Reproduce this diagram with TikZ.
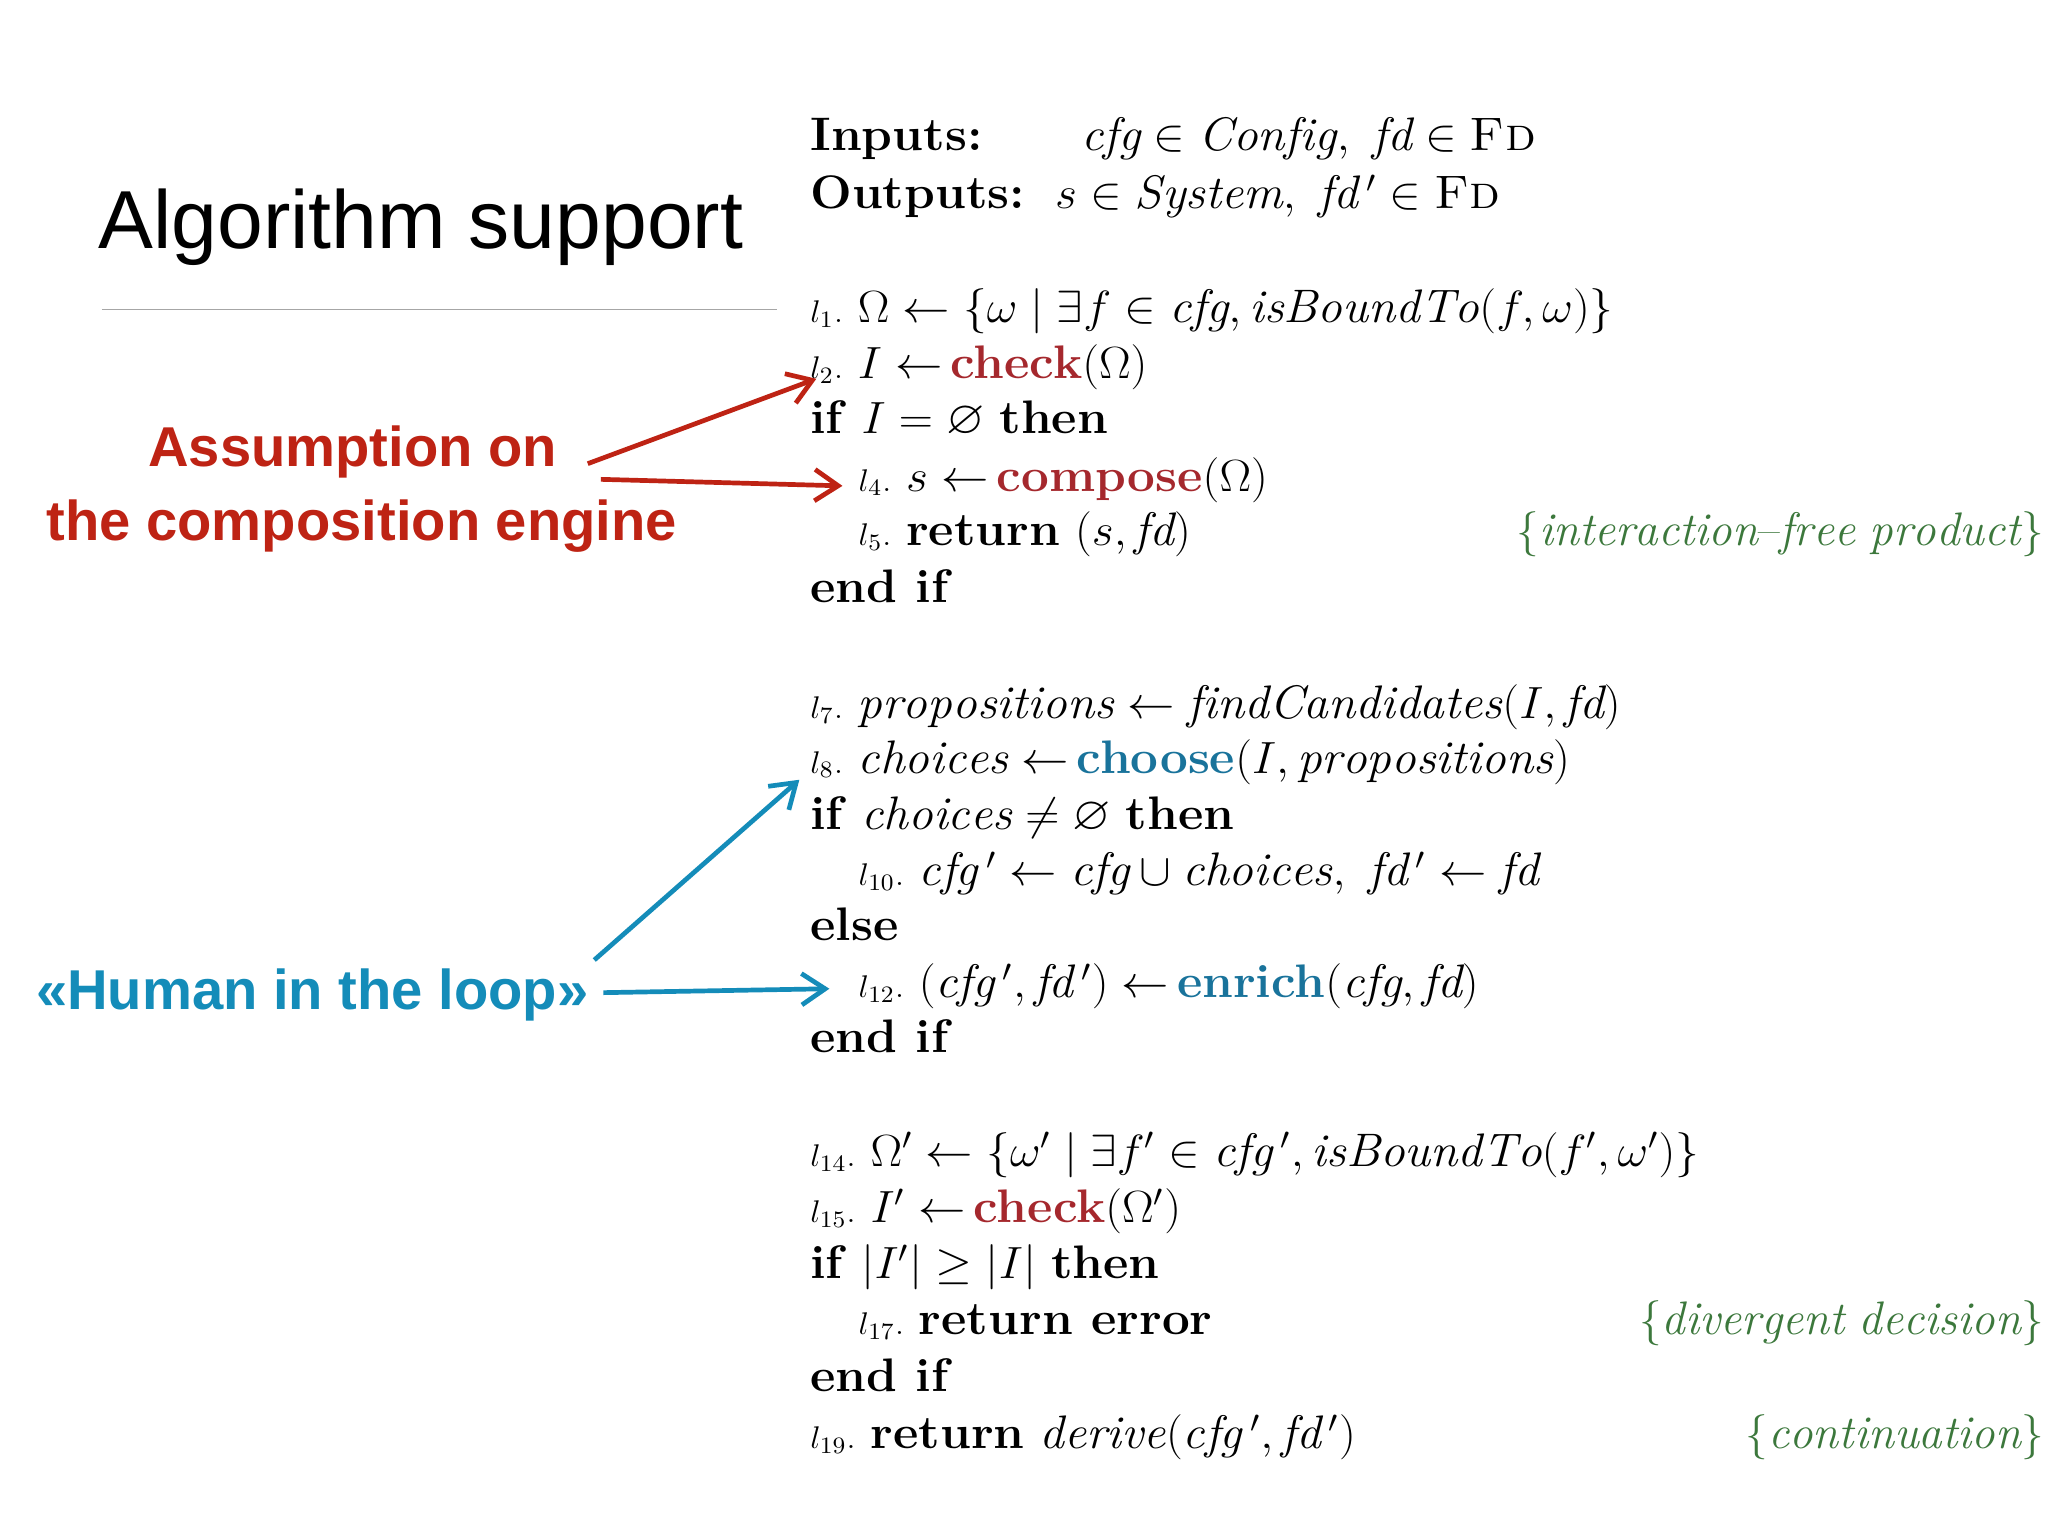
\documentclass[tikz,border=0pt]{standalone}
\usepackage{amsmath,amssymb}
\usepackage{fontspec}
\usetikzlibrary{arrows.meta}
\newfontfamily\sansf{Liberation Sans}
\definecolor{ared}{RGB}{190,35,20}
\definecolor{ablue}{RGB}{20,140,185}
\definecolor{kred}{RGB}{165,40,45}
\definecolor{kblue}{RGB}{25,115,155}
\definecolor{cgreen}{RGB}{60,120,60}
\newcommand{\cfg}{\mathit{cfg}}
\newcommand{\fdd}{\mathit{fd}}
\newcommand{\lab}[1]{\ensuremath{\scriptstyle l_{#1}.}\ }
\newcommand{\kr}[1]{\textcolor{kred}{\textbf{#1}}}
\newcommand{\kb}[1]{\textcolor{kblue}{\textbf{#1}}}
\begin{document}
\begin{tikzpicture}[x=0.5pt,y=-0.5pt,
  alg/.style={anchor=base west,inner sep=0,font=\fontsize{18}{21}\selectfont,xscale=1.05,transform shape},
  cmt/.style={anchor=base east,inner sep=0,text=cgreen,font=\fontsize{18}{21}\selectfont},
  ann/.style={font=\sansf\bfseries\fontsize{21.5}{25}\selectfont,inner sep=0},
  rarr/.style={draw=ared,line width=1.8pt,-{Straight Barb[length=9pt,width=12pt]}},
  barr/.style={draw=ablue,line width=1.8pt,-{Straight Barb[length=9pt,width=12pt]}}]
\useasboundingbox (0,0) rectangle (1568,1176);
\fill[white] (0,0) rectangle (1568,1176);
\node[anchor=base west,inner sep=0,font=\sansf\fontsize{31.5}{34}\selectfont] (title) at (75,190) {Algorithm support};
\draw[gray!70,line width=0.6pt] (78,237) -- (595,237);
\node[ann,text=ared] (a1) at (270,346) {Assumption on};
\node[ann,text=ared] (a2) at (277,403) {the composition engine};
\node[ann,text=ablue] (h) at (239,762) {«Human in the loop»};
% algorithm
\node[alg] (in) at (620,115) {\textbf{Inputs:}\qquad$\cfg\in\mathit{Config},\ \fdd\in\textsc{Fd}$};
\node[alg] (out) at (620,160) {\textbf{Outputs:}\ \ $s\in\mathit{System},\ \fdd\,'\in\textsc{Fd}$};
\node[alg] (l1) at (620,247) {\lab1$\Omega\leftarrow\{\omega\mid\exists f\in\cfg,\mathit{isBoundTo}(f,\omega)\}$};
\node[alg] (l2) at (620,290) {\lab2$I\leftarrow\,$\kr{check}$(\Omega)$};
\node[alg] (l3) at (620,332) {\textbf{if} $I=\varnothing$ \textbf{then}};
\node[alg] (l4) at (657,376) {\lab4$s\leftarrow\,$\kr{compose}$(\Omega)$};
\node[alg] (l5) at (657,418) {\lab5\textbf{return} $(s,\fdd)$};
\node[cmt] (c5) at (1565,418) {$\{\mathit{interaction\text{--}free\ product}\}$};
\node[alg] (l6) at (620,461) {\textbf{end if}};
\node[alg] (l7) at (620,550) {\lab7$\mathit{propositions}\leftarrow\mathit{findCandidates}(I,\fdd)$};
\node[alg] (l8) at (620,592) {\lab8$\mathit{choices}\leftarrow\,$\kb{choose}$(I,\mathit{propositions})$};
\node[alg] (l9) at (620,635) {\textbf{if} $\mathit{choices}\neq\varnothing$ \textbf{then}};
\node[alg] (l10) at (657,678) {\lab{10}$\cfg\,'\leftarrow\cfg\cup\mathit{choices},\ \fdd\,'\leftarrow\fdd$};
\node[alg] (l11) at (620,720) {\textbf{else}};
\node[alg] (l12) at (657,764) {\lab{12}$(\cfg\,',\fdd\,')\leftarrow\,$\kb{enrich}$(\cfg,\fdd)$};
\node[alg] (l13) at (620,806) {\textbf{end if}};
\node[alg] (l14) at (620,893) {\lab{14}$\Omega'\leftarrow\{\omega'\mid\exists f'\in\cfg\,',\mathit{isBoundTo}(f',\omega')\}$};
\node[alg] (l15) at (620,936) {\lab{15}$I'\leftarrow\,$\kr{check}$(\Omega')$};
\node[alg] (l16) at (620,979) {\textbf{if} $|I'|\geq|I|$ \textbf{then}};
\node[alg] (l17) at (657,1022) {\lab{17}\textbf{return error}};
\node[cmt] (c17) at (1565,1022) {$\{\mathit{divergent\ decision}\}$};
\node[alg] (l18) at (620,1065) {\textbf{end if}};
\node[alg] (l19) at (620,1109) {\lab{19}\textbf{return} $\mathit{derive}(\cfg\,',\fdd\,')$};
\node[cmt] (c19) at (1565,1109) {$\{\mathit{continuation}\}$};
% arrows
\coordinate (r1s) at (450,355); \coordinate (r1e) at (625,290);
\coordinate (r2s) at (460,367); \coordinate (r2e) at (645,372);
\coordinate (b1s) at (455,735); \coordinate (b1e) at (612,597);
\coordinate (b2s) at (462,760); \coordinate (b2e) at (635,757);
\draw[rarr] (r1s) -- (r1e);
\draw[rarr] (r2s) -- (r2e);
\draw[barr] (b1s) -- (b1e);
\draw[barr] (b2s) -- (b2e);
\end{tikzpicture}
\end{document}
